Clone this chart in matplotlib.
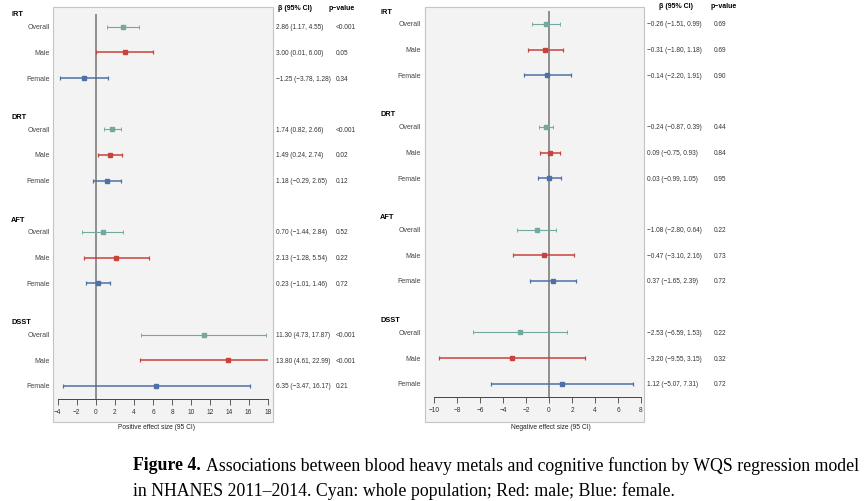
"""
Forest plots of WQS regression estimates (blood heavy metals vs cognitive
function), positive and negative effect directions side by side.
"""

import numpy as np
import matplotlib
matplotlib.use('Agg')
import matplotlib.pyplot as plt
from matplotlib.patches import Rectangle

GROUPS = ['IRT', 'DRT', 'AFT', 'DSST']
SUBGROUPS = ['Overall', 'Male', 'Female']

POS_BETA = [2.86, 3.00, -1.25, 1.74, 1.49, 1.18, 0.70, 2.13, 0.23, 11.30, 13.80, 6.35]
POS_LO = [1.17, 0.01, -3.78, 0.82, 0.24, -0.29, -1.44, -1.28, -1.01, 4.73, 4.61, -3.47]
POS_HI = [4.55, 6.00, 1.28, 2.66, 2.74, 2.65, 2.84, 5.54, 1.46, 17.87, 22.99, 16.17]
POS_P = ['<0.001', '0.05', '0.34', '<0.001', '0.02', '0.12',
         '0.52', '0.22', '0.72', '<0.001', '<0.001', '0.21']

NEG_BETA = [-0.26, -0.31, -0.14, -0.24, 0.09, 0.03, -1.08, -0.47, 0.37, -2.53, -3.20, 1.12]
NEG_LO = [-1.51, -1.80, -2.20, -0.87, -0.75, -0.99, -2.80, -3.10, -1.65, -6.59, -9.55, -5.07]
NEG_HI = [0.99, 1.18, 1.91, 0.39, 0.93, 1.05, 0.64, 2.16, 2.39, 1.53, 3.15, 7.31]
NEG_P = ['0.69', '0.69', '0.90', '0.44', '0.84', '0.95',
         '0.22', '0.73', '0.72', '0.22', '0.32', '0.72']

POS_TICKS = np.arange(-4, 19, 2)
NEG_TICKS = np.arange(-10, 9, 2)

COLORS = {'Overall': '#72a89d', 'Male': '#c9423b', 'Female': '#4d70a6'}
W, H = 865, 502
SANS = ['Liberation Sans', 'DejaVu Sans']


def fmt(v):
    return f'{v:.2f}'.replace('-', '\u2212')


def fx(px):
    return px / W


def fy(py):
    return 1 - py / H


def panel(fig, beta, lo, hi, pvals, ticks, xpx, row0, pitch, box, cols,
          label_px, head_px):
    top = row0 - 0.5 * pitch
    bottom = row0 + 14.5 * pitch
    # grey background box behind the axes
    bx0, by0, bx1, by1 = box
    fig.patches.append(Rectangle((fx(bx0), fy(by1)), fx(bx1 - bx0), (by1 - by0) / H,
                                 transform=fig.transFigure, facecolor='#f3f3f3',
                                 edgecolor='#c4c4c4', lw=0.8, zorder=-5))
    ax = fig.add_axes([fx(xpx[0]), fy(bottom), fx(xpx[1] - xpx[0]), (bottom - top) / H])
    ax.patch.set_visible(False)
    ax.set_xlim(ticks[0], ticks[-1])
    ax.set_ylim(14.5, -0.5)
    for s in ['top', 'left', 'right']:
        ax.spines[s].set_visible(False)
    ax.spines['bottom'].set_color('#444444')
    ax.spines['bottom'].set_linewidth(0.7)
    ax.set_yticks([])
    ax.set_xticks(ticks)
    ax.set_xticklabels([str(t).replace('-', '\u2212') for t in ticks], family=SANS)
    ax.tick_params(axis='x', direction='out', length=4, width=0.6, color='#444444',
                   labelsize=4.7, pad=3, labelcolor='#333333')
    ax.axvline(0, color='#8f8f8f', lw=1.4, zorder=1)

    # pixel x -> data x for the text columns
    scale = (xpx[1] - xpx[0]) / (ticks[-1] - ticks[0])
    dx = lambda px: ticks[0] + (px - xpx[0]) / scale

    for g, group in enumerate(GROUPS):
        ax.text(dx(head_px), g * 4 - 0.5, group, fontsize=5.3, fontweight='bold',
                family=SANS, va='center', ha='left', clip_on=False)
    for i in range(len(beta)):
        g, r = divmod(i, 3)
        y = g * 4 + r
        sub = SUBGROUPS[r]
        c = COLORS[sub]
        lw = 0.8 if sub == 'Overall' else 1.1
        ms = 2.3 if sub == 'Overall' else 2.6
        ax.errorbar(beta[i], y, xerr=[[beta[i] - lo[i]], [hi[i] - beta[i]]],
                    fmt='s', color=c, ms=ms, elinewidth=lw, capsize=1.6,
                    capthick=lw * 0.8, zorder=3)
        ax.text(dx(label_px), y, sub, fontsize=5.0, family=SANS, color='#444444',
                ha='right', va='center', clip_on=False)
        ci = f'{fmt(beta[i])} ({fmt(lo[i])}, {fmt(hi[i])})'
        ax.text(dx(cols[0]), y, ci, fontsize=4.7, family=SANS, color='#333333',
                ha='left', va='center', clip_on=False)
        ax.text(dx(cols[1]), y, pvals[i], fontsize=4.7, family=SANS, color='#333333',
                ha='left', va='center', clip_on=False)
    return ax


def main():
    fig = plt.figure(figsize=(W / 100, H / 100), dpi=100)

    panel(fig, POS_BETA, POS_LO, POS_HI, POS_P, POS_TICKS, (57.7, 267.7),
          27.7, 25.66, (53, 8, 273, 423), (276, 336), 50, 11)
    panel(fig, NEG_BETA, NEG_LO, NEG_HI, NEG_P, NEG_TICKS, (434, 641),
          25, 25.7, (425, 8, 644, 423), (647, 714), 421, 380)

    # column headers
    hdr = dict(fontsize=5.0, fontweight='bold', family=SANS, va='center', ha='left')
    fig.text(fx(278), fy(8), '\u03b2 (95% CI)', **hdr)
    fig.text(fx(329), fy(8), 'p\u2212value', **hdr)
    fig.text(fx(659), fy(6), '\u03b2 (95% CI)', **hdr)
    fig.text(fx(711), fy(6), 'p\u2212value', **hdr)

    # axis titles
    fig.text(fx(156), fy(428), 'Positive effect size (95 CI)', fontsize=4.8,
             family=SANS, ha='center', va='center', color='#222222')
    fig.text(fx(551), fy(428), 'Negative effect size (95 CI)', fontsize=4.8,
             family=SANS, ha='center', va='center', color='#222222')

    # caption
    serif = ['Liberation Serif', 'DejaVu Serif']
    t = fig.text(fx(133), fy(466), 'Figure 4.', fontsize=12.8, fontweight='bold',
                 family=serif, ha='left', va='center')
    bb = t.get_window_extent(fig.canvas.get_renderer())
    fig.text(bb.x1 / W + fx(5), fy(466),
             'Associations between blood heavy metals and cognitive function by WQS regression model',
             fontsize=12.8, family=serif, ha='left', va='center')
    fig.text(fx(133), fy(491),
             'in NHANES 2011\u20132014. Cyan: whole population; Red: male; Blue: female.',
             fontsize=12.8, family=serif, ha='left', va='center')

    fig.savefig('out.png', dpi=100)
    plt.close()


if __name__ == '__main__':
    main()
